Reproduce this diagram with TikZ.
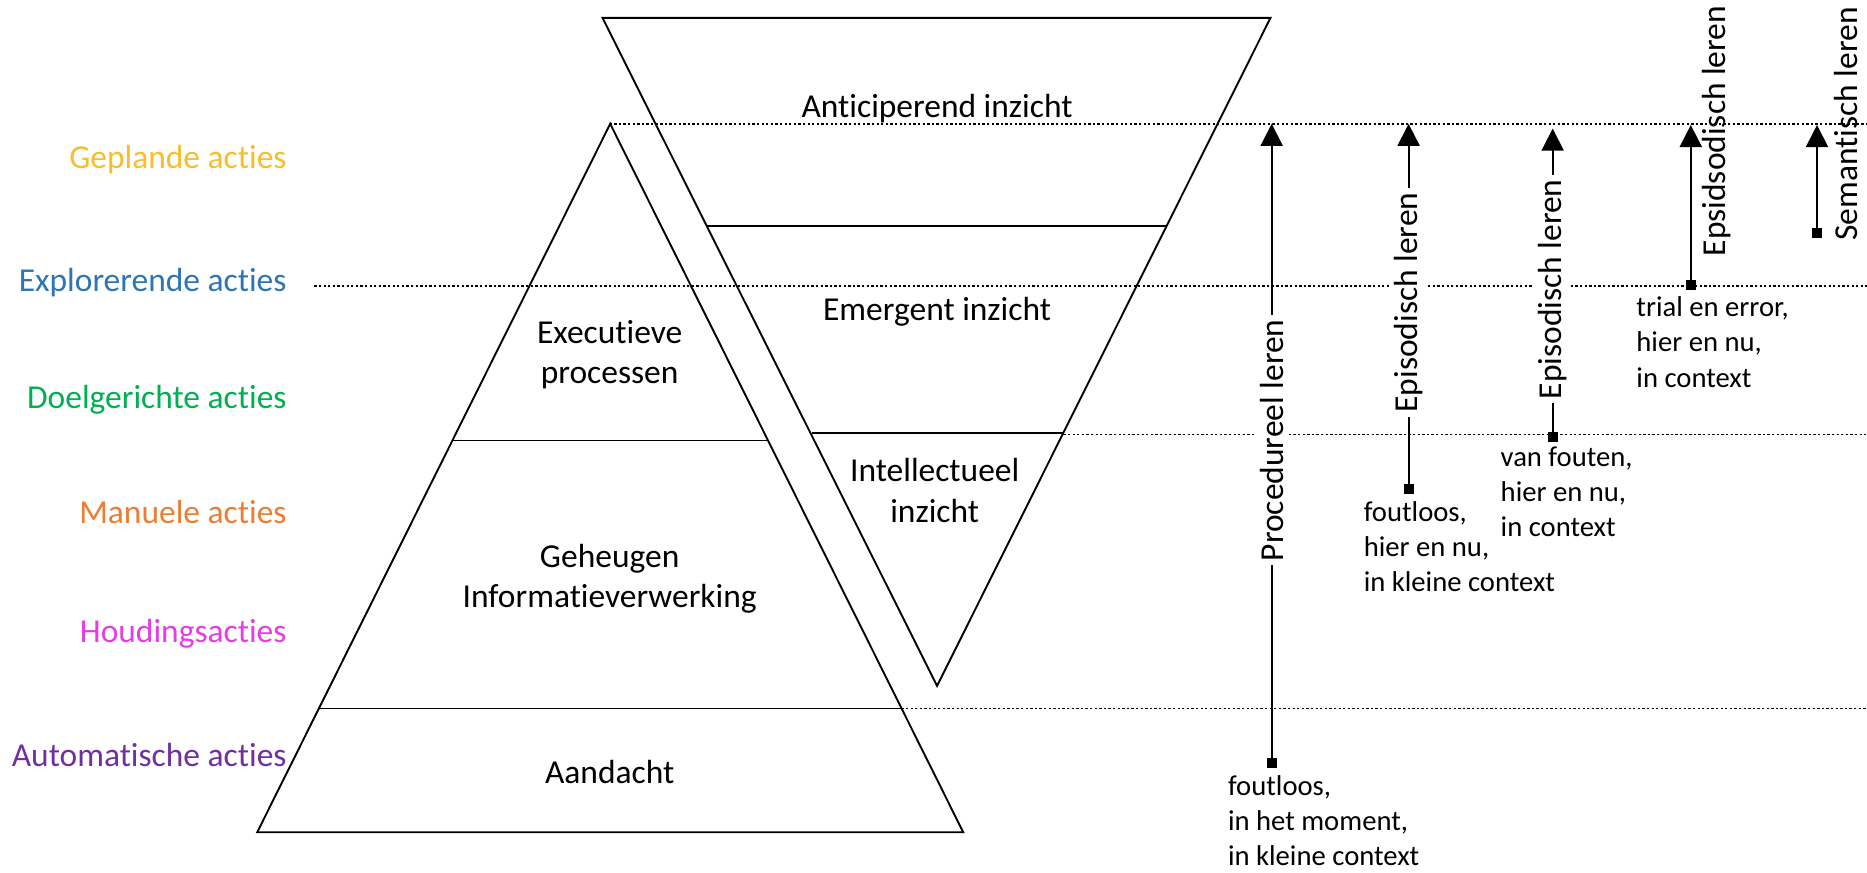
\documentclass[tikz,border=0pt]{standalone}
\usepackage{fontspec}
\setmainfont{Carlito}[Ligatures={NoCommon,NoContextual},Contextuals={NoAlternate},RawFeature={-liga;-clig;-calt}]
\usepackage{tikz}
\usetikzlibrary{arrows.meta}
\usetikzlibrary{positioning}
\definecolor{geplandkl}{HTML}{F5BE2A}
\definecolor{explorkl}{HTML}{2E75B6}
\definecolor{doelkl}{HTML}{00B050}
\definecolor{manuelkl}{HTML}{ED7D31}
\definecolor{houdingkl}{HTML}{E63CE6}
\definecolor{automkl}{HTML}{7030A0}
\tikzstyle{layer}=[draw=black, line width=0.9pt, line join=miter]
\tikzstyle{level}=[draw=black, line width=0.8pt, dash pattern=on 1.1pt off 1.1pt]
\tikzstyle{region}=[align=center, inner sep=0pt,
  font=\fontsize{16}{19.3}\selectfont]
\tikzstyle{actie}=[anchor=east, inner sep=0pt,
  font=\fontsize{16}{19.3}\selectfont]
\tikzstyle{endsq}=[rectangle, fill=black, minimum size=0.17cm, inner sep=0pt]
\tikzstyle{learn}=[-{Triangle[length=0.37cm, width=0.37cm]}, line width=0.9pt]
\tikzstyle{inlabel}=[rotate=90, fill=white, inner sep=2pt,
  font=\fontsize{16}{19.3}\selectfont]
\tikzstyle{sidelabel}=[rotate=90, inner sep=0pt,
  font=\fontsize{16}{19.3}\selectfont]
\tikzstyle{note}=[anchor=north west, align=left, inner sep=0pt,
  font=\fontsize{13.7}{16.8}\selectfont]
\begin{document}
\begin{tikzpicture}[x=0.02cm, y=-0.02cm]
\useasboundingbox (0,0) rectangle (1568,733);

% dotted levels
\draw[level] (512,104) -- (1568,104);
\draw[level] (264,240) -- (1568,240);
\draw[level] (893,365) -- (1568,365);
\draw[level] (757,595) -- (1568,595);

% pyramid
\coordinate (pyrtop) at (512.5,104);
\coordinate (pyrleft) at (216,699);
\coordinate (pyrright) at (809,699);
\draw[layer] (pyrtop) -- (pyrleft) -- (pyrright) -- cycle;
\draw[layer] (380,370) -- (645,370);
\draw[layer] (268,595) -- (757,595);

% inverted triangle
\coordinate (invleft) at (506,15);
\coordinate (invright) at (1067,15);
\coordinate (invbot) at (787,576);
\draw[layer] (invleft) -- (invright) -- (invbot) -- cycle;
\draw[layer] (594,190) -- (980,190);
\draw[layer] (682,364) -- (893,364);

\node[region] (anticip) at (787,91) {Anticiperend inzicht};
\node[region] (emergent) at (787,262) {Emergent inzicht};
\node[region] (intellect) at (785,412) {Intellectueel\\inzicht};
\node[region] (execut) at (512,298) {Executieve\\processen};
\node[region] (geheugen) at (512,486) {Geheugen\\Informatieverwerking};
\node[region] (aandacht) at (512,648) {Aandacht};

% actions
\node[actie, text=geplandkl] (gepland) at (241,134) {Geplande acties};
\node[actie, text=explorkl] (explor) at (241,237) {Explorerende acties};
\node[actie, text=doelkl] (doel) at (241,336) {Doelgerichte acties};
\node[actie, text=manuelkl] (manuel) at (241,430) {Manuele acties};
\node[actie, text=houdingkl] (houding) at (241,532) {Houdingsacties};
\node[actie, text=automkl] (autom) at (241,634) {Automatische acties};

% learning arrows
\node[endsq] (procstart) at (1068,641) {};
\coordinate (procend) at (1068,104);
\draw[learn] (procstart.center) -- node[inlabel, pos=0.505] (proclab) {Procedureel leren} (procend);

\node[endsq] (epistart) at (1183,411) {};
\coordinate (epiend) at (1183,104);
\draw[learn] (epistart.center) -- node[inlabel, pos=0.511] (epilab) {Episodisch leren} (epiend);

\node[endsq] (foutstart) at (1304,367) {};
\coordinate (foutend) at (1304,108);
\draw[learn] (foutstart.center) -- node[inlabel, pos=0.479] (foutlab) {Episodisch leren} (foutend);

\node[endsq] (trialstart) at (1420,239) {};
\coordinate (trialend) at (1420,105);
\draw[learn] (trialstart.center) -- (trialend);
\node[sidelabel] (triallab) at (1442,110) {Epsidsodisch leren};

\node[endsq] (semstart) at (1526,196) {};
\coordinate (semend) at (1526,105);
\draw[learn] (semstart.center) -- (semend);
\node[sidelabel] (semlab) at (1550,104) {Semantisch leren};

% notes
\node[note] (procnote) at (1031,651) {foutloos,\\in het moment,\\in kleine context};
\node[note] (epinote) at (1145,421) {foutloos,\\hier en nu,\\in kleine context};
\node[note] (foutnote) at (1260,375) {van fouten,\\hier en nu,\\in context};
\node[note] (trialnote) at (1374,249) {trial en error,\\hier en nu,\\in context};

\end{tikzpicture}
\end{document}
